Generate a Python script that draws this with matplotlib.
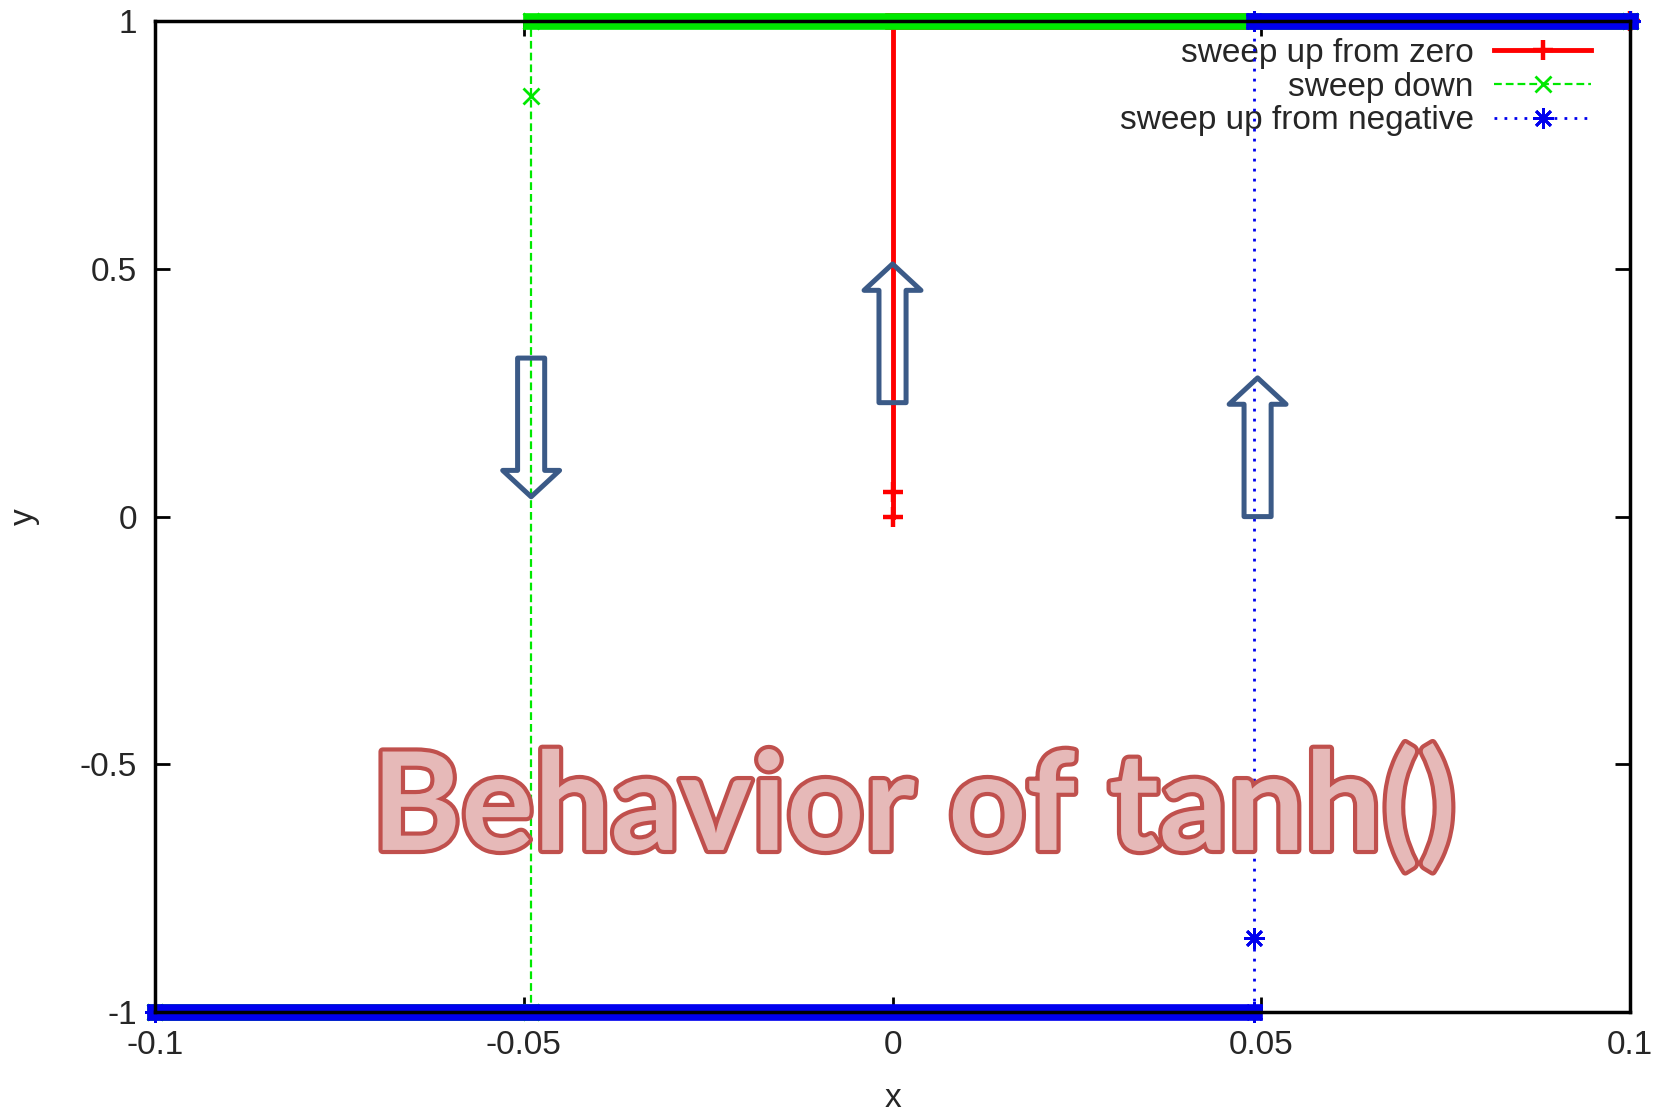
import matplotlib
matplotlib.use("Agg")
import matplotlib.pyplot as plt
import matplotlib.patheffects as pe
from matplotlib.lines import Line2D
from matplotlib.patches import FancyArrowPatch

# Hysteresis of tanh(): (x, y) points of each sweep
up_zero_x = [0.0, 0.0, 0.0, 0.1]
up_zero_y = [0.0, 0.05, 1.0, 1.0]

down_x = [0.1, -0.049, -0.049, -0.049, -0.1]
down_y = [1.0, 1.0, 0.85, -1.0, -1.0]

up_neg_x = [-0.1, 0.049, 0.049, 0.049, 0.1]
up_neg_y = [-1.0, -1.0, -0.85, 1.0, 1.0]

series_labels = ["sweep up from zero", "sweep down", "sweep up from negative"]

x_ticks = [-0.1, -0.05, 0, 0.05, 0.1]
x_tick_labels = ["-0.1", "-0.05", "0", "0.05", "0.1"]
y_ticks = [-1, -0.5, 0, 0.5, 1]
y_tick_labels = ["-1", "-0.5", "0", "0.5", "1"]

# annotation arrows: x, y start, y end
arrow_x = [-0.049, 0.0, 0.0495]
arrow_y0 = [0.32, 0.23, 0.0]
arrow_y1 = [0.04, 0.51, 0.28]

title_text = "Behavior of tanh()"

plt.rcParams['font.family'] = ['Liberation Sans', 'DejaVu Sans']

fig = plt.figure(figsize=(16.65, 11.16), dpi=100)
ax = fig.add_axes([0.0931, 0.0932, 0.979 - 0.0931, 0.981 - 0.0932])


def draw_band(xs, ys, color, z):
    # saturated parts are drawn as a thick band (dense points in the original)
    for i in range(len(xs) - 1):
        if ys[i] == ys[i + 1] and abs(ys[i]) == 1:
            ax.plot([xs[i], xs[i + 1]], [ys[i], ys[i + 1]], color=color, lw=12,
                    solid_capstyle='projecting', clip_on=False, zorder=z)


styles = [
    dict(color='#ff0000', ls='-', lw=3.5, marker='+', ms=15, mew=3.2),
    dict(color='#00e800', ls=(0, (3.5, 1.8)), lw=1.6, marker='x', ms=12, mew=2),
    dict(color='#0000ee', ls=(0, (1, 2.6)), lw=2, marker=(8, 2, 0), ms=15, mew=2),
]
marks = [[0, 1, 3], None, None]
data = [(up_zero_x, up_zero_y), (down_x, down_y), (up_neg_x, up_neg_y)]

handles = []
for k, ((xs, ys), st) in enumerate(zip(data, styles)):
    ax.plot(xs, ys, clip_on=False, zorder=3 + 2 * k, markevery=marks[k], **st)
    draw_band(xs, ys, st['color'], 4 + 2 * k)
    handles.append(Line2D([], [], **st))

ax.set_xlim(-0.1, 0.1)
ax.set_ylim(-1, 1)
ax.set_xticks(x_ticks)
ax.set_xticklabels(x_tick_labels)
ax.set_yticks(y_ticks)
ax.set_yticklabels(y_tick_labels)
ax.tick_params(direction='in', length=11, width=2, labelsize=24, pad=13,
               top=True, right=True, labelcolor='#262626')
for s in ax.spines.values():
    s.set_linewidth(2.5)
    s.set_zorder(20)

ax.set_xlabel('x', fontsize=24, color='#262626')
ax.xaxis.set_label_coords(0.5, -0.072)
ax.set_ylabel('y', fontsize=24, color='#262626')
ax.yaxis.set_label_coords(-0.078, 0.5)

ax.legend(handles, series_labels, loc='upper right', frameon=False, fontsize=24,
          markerfirst=False, handlelength=2.9, handletextpad=0.62,
          labelspacing=0.08, borderpad=0, borderaxespad=0,
          bbox_to_anchor=(1591 / 1665, 1 - 38 / 1116), bbox_transform=fig.transFigure,
          labelcolor='#262626')

# outlined block arrows
for x0, y0, y1 in zip(arrow_x, arrow_y0, arrow_y1):
    arr = FancyArrowPatch((x0, y0), (x0, y1),
                          arrowstyle='simple,head_length=19,head_width=41,tail_width=19.5',
                          mutation_scale=1, shrinkA=0, shrinkB=0, fc='none',
                          ec='#3b5a87', lw=3.6, zorder=15)
    ax.add_patch(arr)

fig.text(0.549, 0.2384, title_text, ha='center', va='baseline', fontsize=98,
         fontweight='bold', family=['Lato', 'DejaVu Sans'], color='#e6b9b8',
         path_effects=[pe.withStroke(linewidth=6, foreground='#c0504d')], zorder=30)

fig.savefig('out.png', dpi=100)
